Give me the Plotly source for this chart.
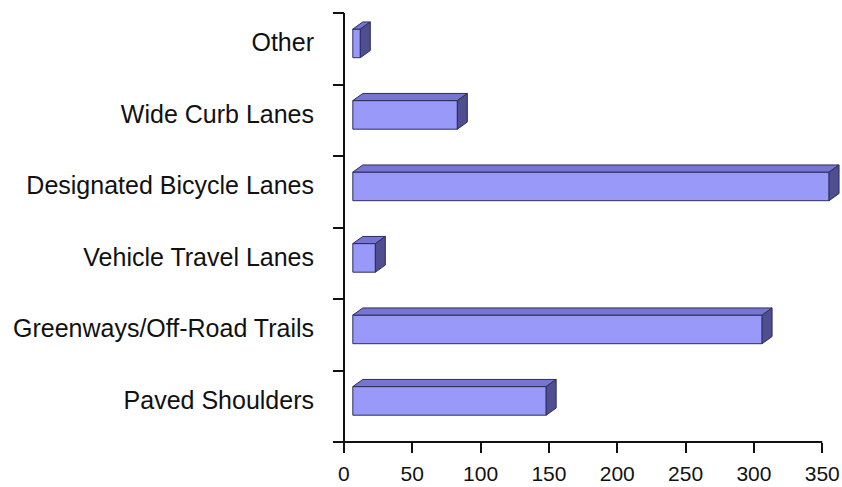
import plotly.graph_objects as go

categories = ["Paved Shoulders", "Greenways/Off-Road Trails", "Vehicle Travel Lanes",
              "Designated Bicycle Lanes", "Wide Curb Lanes", "Other"]
values = [148, 306, 23, 355, 83, 12]
x_ticks = [0, 50, 100, 150, 200, 250, 300, 350]

# 3D styling (in axis units)
BASE = 6.5      # front face start
DX = 7.3        # depth to the right
DY = 0.10       # depth upward
LO, HI = -0.125, 0.275  # front face extent around category position
LABEL_SHIFT = 0.09

FRONT = "#9999FA"
TOP = "#7676D2"
SIDE = "#4E4E90"
EDGE = "#2E2E5C"

ypos = list(range(len(categories)))

fig = go.Figure()
fig.add_trace(go.Bar(
    y=ypos, x=[v - BASE for v in values], base=[BASE] * len(values),
    orientation="h", width=HI - LO, offset=LO,
    marker=dict(color=FRONT, line=dict(color=EDGE, width=1)),
    hoverinfo="skip", showlegend=False))

for y, v in zip(ypos, values):
    y0, y1 = y + LO, y + HI
    # top face
    fig.add_trace(go.Scatter(
        x=[BASE, v, v + DX, BASE + DX, BASE],
        y=[y1, y1, y1 + DY, y1 + DY, y1],
        mode="lines", fill="toself", fillcolor=TOP,
        line=dict(color=EDGE, width=1), hoverinfo="skip", showlegend=False))
    # side face
    fig.add_trace(go.Scatter(
        x=[v, v + DX, v + DX, v, v],
        y=[y0, y0 + DY, y1 + DY, y1, y0],
        mode="lines", fill="toself", fillcolor=SIDE,
        line=dict(color=EDGE, width=1), hoverinfo="skip", showlegend=False))

# x-axis line (ends at the last tick)
fig.add_shape(type="line", xref="x", yref="paper", x0=-8, x1=350, y0=0, y1=0,
              line=dict(color="#111111", width=2))

fig.update_layout(
    width=842, height=487,
    margin=dict(l=333, r=2, t=13, b=45),
    plot_bgcolor="white", paper_bgcolor="white",
    font=dict(family="Liberation Sans, Arial, sans-serif", color="#111111"),
    xaxis=dict(range=[-8, 363], tickvals=x_ticks, ticks="outside", ticklen=10,
               tickwidth=2, tickcolor="#111111", showgrid=False, showline=False,
               zeroline=True, zerolinecolor="#111111", zerolinewidth=2,
               tickfont=dict(size=21), ticklabelstandoff=3, fixedrange=True),
    yaxis=dict(range=[-0.5, 5.5], tickvals=[y + LABEL_SHIFT for y in ypos],
               ticktext=categories, ticks="",
               showgrid=False, showline=False, zeroline=False,
               tickfont=dict(size=25), ticklabelstandoff=18,
               minor=dict(tickvals=[i - 0.5 for i in range(len(categories) + 1)],
                          ticks="inside", ticklen=11, tickwidth=2,
                          tickcolor="#111111", showgrid=False),
               fixedrange=True),
)

fig.write_html("out.html")
